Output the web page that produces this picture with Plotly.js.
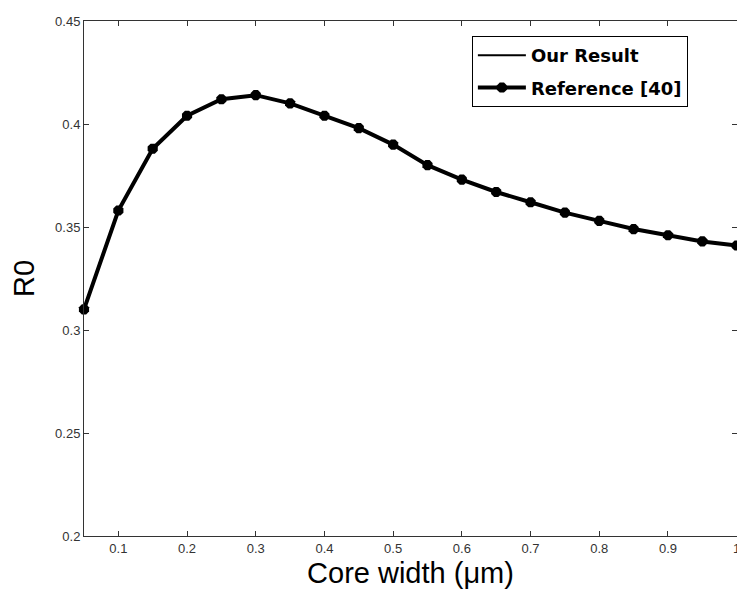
<!DOCTYPE html>
<html>
<head>
<meta charset="utf-8">
<script src="https://cdn.plot.ly/plotly-3.0.1.min.js"></script>
<style>html,body{margin:0;padding:0;background:#fff;overflow:hidden}#chart{width:737px;height:594px}</style>
</head>
<body>
<div id="chart"></div>
<script>
const coreWidth = [0.05,0.1,0.15,0.2,0.25,0.3,0.35,0.4,0.45,0.5,0.55,0.6,0.65,0.7,0.75,0.8,0.85,0.9,0.95,1.0];
const ourResult = [0.310,0.358,0.388,0.404,0.412,0.414,0.410,0.404,0.398,0.390,0.380,0.373,0.367,0.362,0.357,0.353,0.349,0.346,0.343,0.341];
const reference40 = [0.310,0.358,0.388,0.404,0.412,0.414,0.410,0.404,0.398,0.390,0.380,0.373,0.367,0.362,0.357,0.353,0.349,0.346,0.343,0.341];
const xTicks = [0.1,0.2,0.3,0.4,0.5,0.6,0.7,0.8,0.9,1];
const xTickLabels = ["0.1","0.2","0.3","0.4","0.5","0.6","0.7","0.8","0.9","1"];
const yTicks = [0.2,0.25,0.3,0.35,0.4,0.45];
const yTickLabels = ["0.2","0.25","0.3","0.35","0.4","0.45"];

const traces = [
  {x: coreWidth, y: ourResult, name: "Our Result", mode: "lines", legendgroup: "a",
   line: {color: "#000", width: 2}, cliponaxis: false},
  {x: coreWidth, y: reference40, name: "Reference [40]", mode: "lines+markers", legendgroup: "b",
   line: {color: "#000", width: 4}, marker: {symbol: "octagon", size: 11, color: "#000"}, cliponaxis: false}
];

const axisCommon = {
  showgrid: false, zeroline: false, showline: true, linecolor: "#333", linewidth: 1,
  ticks: "inside", ticklen: 5, tickcolor: "#333", tickwidth: 1, mirror: "ticks",
  ticklabeloverflow: "allow",
  tickfont: {family: "Liberation Sans, Arial, sans-serif", size: 13, color: "#333"}
};

const layout = {
  width: 737, height: 594,
  margin: {l: 84, r: 0, t: 21, b: 58},
  paper_bgcolor: "#fff", plot_bgcolor: "#fff",
  showlegend: true,
  legend: {
    x: 0.594, y: 0.971, xanchor: "left", yanchor: "top",
    bgcolor: "#fff", bordercolor: "#000", borderwidth: 1,
    font: {family: "DejaVu Sans, sans-serif", size: 18, color: "#000", weight: "bold"},
    tracegroupgap: 6, itemwidth: 48
  },
  xaxis: Object.assign({}, axisCommon, {
    range: [0.05, 1.0005], tickvals: xTicks, ticktext: xTickLabels,
    title: {text: "Core width (\u03bcm)", standoff: 8,
      font: {family: "Liberation Sans, Arial, sans-serif", size: 29, color: "#000"}}
  }),
  yaxis: Object.assign({}, axisCommon, {
    range: [0.2, 0.45], tickvals: yTicks, ticktext: yTickLabels,
    title: {text: "R0", standoff: 11,
      font: {family: "Liberation Sans, Arial, sans-serif", size: 29, color: "#000"}}
  })
};

Plotly.newPlot("chart", traces, layout, {displayModeBar: false, staticPlot: true});
</script>
</body>
</html>
